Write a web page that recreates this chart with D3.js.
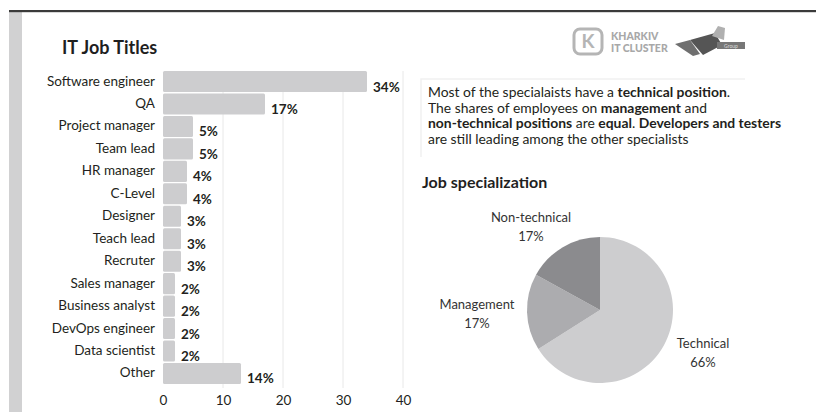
<!DOCTYPE html>
<html>
<head>
<meta charset="utf-8">
<script src="https://cdn.jsdelivr.net/npm/d3@7"></script>
<style>
  body { margin: 0; background: #fff; }
  svg { display: block; font-family: Lato, "Open Sans", sans-serif; }
</style>
</head>
<body>
<div id="chart"></div>
<script>
// data for the bar chart
const titles = ["Software engineer", "QA", "Project manager", "Team lead", "HR manager", "C-Level",
  "Designer", "Teach lead", "Recruter", "Sales manager", "Business analyst", "DevOps engineer",
  "Data scientist", "Other"];
const shares = [34, 17, 5, 5, 4, 4, 3, 3, 3, 2, 2, 2, 2, 13];
const shareLabels = ["34%", "17%", "5%", "5%", "4%", "4%", "3%", "3%", "3%", "2%", "2%", "2%", "2%", "14%"];
const xTicks = [0, 10, 20, 30, 40];

// data for the pie
const specNames = ["Technical", "Management", "Non-technical"];
const specValues = [66, 17, 17];
const specColors = ["#cdcdcf", "#acacaf", "#8b8b8e"];

const W = 816, H = 412;
const svg = d3.select("#chart").append("svg").attr("width", W).attr("height", H);

// frame: dark top rule and grey side band
svg.append("rect").attr("x", 9).attr("y", 12).attr("width", 13).attr("height", H - 12).attr("fill", "#d1d1d2");
svg.append("rect").attr("x", 9).attr("y", 10).attr("width", W - 9).attr("height", 2.2).attr("fill", "#3a3a3a");

svg.append("text").attr("x", 62).attr("y", 54)
  .attr("font-size", 18).attr("font-weight", "bold").attr("fill", "#1f1f1f")
  .text("IT Job Titles");

// ---- bar chart ----
const x = d3.scaleLinear().domain([0, 40]).range([163, 403]);
const y = d3.scaleBand().domain(titles).range([71, 384]).paddingInner(0.06);

const bars = svg.append("g");

bars.selectAll(".grid")
  .data(xTicks.slice(1))
  .enter().append("line")
  .attr("x1", d => x(d)).attr("x2", d => x(d))
  .attr("y1", 71).attr("y2", 388)
  .attr("stroke", "#e8e8e8").attr("stroke-width", 1);

bars.selectAll(".bar")
  .data(shares)
  .enter().append("rect")
  .attr("x", x(0))
  .attr("y", (d, i) => y(titles[i]))
  .attr("width", d => x(d) - x(0))
  .attr("height", y.bandwidth())
  .attr("rx", 1.5)
  .attr("fill", "#cdcdcf");

bars.selectAll(".cat")
  .data(titles)
  .enter().append("text")
  .attr("x", 155)
  .attr("y", d => y(d) + y.bandwidth() / 2 + 4)
  .attr("text-anchor", "end")
  .attr("font-size", 13.5).attr("fill", "#231f20")
  .text(d => d);

bars.selectAll(".val")
  .data(shares)
  .enter().append("text")
  .attr("x", d => x(d) + 6)
  .attr("y", (d, i) => y(titles[i]) + y.bandwidth() / 2 + 10)
  .attr("font-size", 13.5).attr("font-weight", "bold").attr("fill", "#231f20")
  .text((d, i) => shareLabels[i]);

const axis = bars.append("g")
  .attr("transform", "translate(0,388)")
  .call(d3.axisBottom(x).tickValues(xTicks).tickSize(0).tickPadding(7));
axis.select(".domain").remove();
axis.selectAll("text").attr("font-size", 13.5).attr("fill", "#231f20").attr("font-family", "Lato, sans-serif");

// ---- logo ----
const logo = svg.append("g").attr("fill", "#9a9a9a");
logo.append("rect").attr("x", 574).attr("y", 29).attr("width", 28).attr("height", 25).attr("rx", 6)
  .attr("fill", "none").attr("stroke", "#b5b5b5").attr("stroke-width", 3);
logo.append("text").attr("x", 588).attr("y", 48).attr("text-anchor", "middle")
  .attr("font-size", 19).attr("font-weight", "bold").attr("fill", "#b5b5b5").text("K");
logo.append("text").attr("x", 611).attr("y", 40).attr("font-size", 10.5).attr("font-weight", "900")
  .attr("fill", "#a8a8a8").text("KHARKIV");
logo.append("text").attr("x", 611).attr("y", 52).attr("font-size", 10.5).attr("font-weight", "900")
  .attr("fill", "#a8a8a8").text("IT CLUSTER");
logo.append("path").attr("d", "M675,44 L690,40 L700,54 L693,56 Z").attr("fill", "#6f6f6f");
logo.append("path").attr("d", "M690,40 L715,33 L722,45 L703,55 Z").attr("fill", "#555");
logo.append("path").attr("d", "M712,36 L718,26 L725,28 L724,40 Z").attr("fill", "#b0b0b0");
logo.append("rect").attr("x", 717).attr("y", 42).attr("width", 28).attr("height", 7).attr("fill", "#777");
logo.append("text").attr("x", 731).attr("y", 47.5).attr("text-anchor", "middle").attr("font-size", 5)
  .attr("fill", "#ddd").text("Group");

// ---- note text ----
svg.append("path").attr("d", "M421,157 L421,79 L745,79")
  .attr("fill", "none").attr("stroke", "#f1f1f1").attr("stroke-width", 1.5);

const note = [
  [["Most of the specialaists have a ", false], ["technical position", true], [".", false]],
  [["The shares of employees on ", false], ["management", true], [" and", false]],
  [["non-technical positions", true], [" are ", false], ["equal", true], [". ", false], ["Developers and testers", true]],
  [["are still leading among the other specialists", false]]
];
const noteText = svg.append("text").attr("font-size", 13.9).attr("fill", "#231f20");
note.forEach((line, i) => {
  line.forEach((part, j) => {
    const t = noteText.append("tspan").text(part[0]).attr("font-weight", part[1] ? "bold" : "normal");
    if (j === 0) t.attr("x", 428).attr("y", 97 + i * 15.5);
  });
});

svg.append("text").attr("x", 422).attr("y", 188)
  .attr("font-size", 16).attr("font-weight", "bold").attr("fill", "#1f1f1f")
  .text("Job specialization");

// ---- pie ----
const cx = 600, cy = 310, r = 73;
const pie = d3.pie().sort(null).value(d => d)(specValues);
const arc = d3.arc().innerRadius(0).outerRadius(r);
const pg = svg.append("g").attr("transform", `translate(${cx},${cy})`);
pg.selectAll("path")
  .data(pie)
  .enter().append("path")
  .attr("d", arc)
  .attr("fill", (d, i) => specColors[i]);

const labelPos = [[703, 348], [477, 309], [531, 222]];
specNames.forEach((name, i) => {
  const t = svg.append("text").attr("text-anchor", "middle").attr("font-size", 13).attr("fill", "#333");
  t.append("tspan").attr("x", labelPos[i][0]).attr("y", labelPos[i][1]).text(name);
  t.append("tspan").attr("x", labelPos[i][0]).attr("y", labelPos[i][1] + 19).text(specValues[i] + "%");
});
</script>
</body>
</html>
